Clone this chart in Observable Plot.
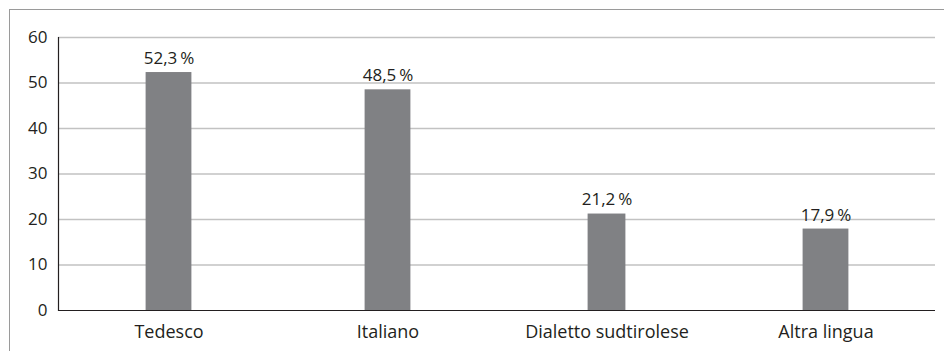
<!DOCTYPE html>
<html>
<head>
<meta charset="utf-8">
<script src="https://cdn.jsdelivr.net/npm/d3@7"></script>
<script src="https://cdn.jsdelivr.net/npm/@observablehq/plot@0.6"></script>
<style>
  html, body { margin: 0; padding: 0; background: #fff; }
  #wrap { position: relative; width: 944px; height: 351px; overflow: hidden; }
  #box { position: absolute; left: 9px; top: 9px; right: -5px; bottom: -5px;
         border-top: 1.5px solid #9a9a9a; border-left: 1.5px solid #9a9a9a; }
  #chart { position: absolute; left: 0; top: 0; }
</style>
</head>
<body>
<div id="wrap"><div id="box"></div><div id="chart"></div></div>
<script>
// Lingue parlate: quota percentuale per lingua
const categories = ["Tedesco", "Italiano", "Dialetto sudtirolese", "Altra lingua"];
const values = [52.3, 48.5, 21.2, 17.9];
const yTicks = [0, 10, 20, 30, 40, 50, 60];

const data = categories.map((lingua, i) => ({lingua, quota: values[i]}));
const fmt = v => v.toFixed(1).replace(".", ",") + "\u2009%";
const ink = "#231f20";

const chart = Plot.plot({
  width: 944,
  height: 351,
  marginLeft: 58,
  marginRight: 9,
  marginTop: 37,
  marginBottom: 41,
  style: {fontFamily: "'Open Sans', sans-serif", fontSize: "18px", color: ink, background: "transparent"},
  x: {domain: categories, padding: 0, label: null},
  y: {domain: [0, 60], ticks: yTicks, label: null},
  marks: [
    Plot.gridY(yTicks.filter(t => t > 0), {stroke: "#c2c2c2", strokeOpacity: 1, strokeWidth: 1.5}),
    Plot.barY(data.filter(d => d.lingua !== "Dialetto sudtirolese"),
      {x: "lingua", y: "quota", fill: "#808184", insetLeft: 86.6, insetRight: 86.6}),
    Plot.barY(data.filter(d => d.lingua === "Dialetto sudtirolese"),
      {x: "lingua", y: "quota", fill: "#808184", insetLeft: 90.6, insetRight: 90.6}),
    Plot.text(data, {x: "lingua", y: "quota", text: d => fmt(d.quota), dy: -14, fill: ink, fontSize: 17}),
    Plot.ruleY([0], {stroke: ink, strokeWidth: 1.2}),
    Plot.frame({anchor: "left", stroke: ink, strokeWidth: 1.2}),
    Plot.axisY(yTicks, {tickSize: 0, tickPadding: 11, label: null, fill: ink, fontSize: 17}),
    Plot.axisX({tickSize: 0, tickPadding: 15, label: null, fill: ink, fontSize: 18})
  ]
});
document.getElementById("chart").append(chart);
</script>
</body>
</html>
